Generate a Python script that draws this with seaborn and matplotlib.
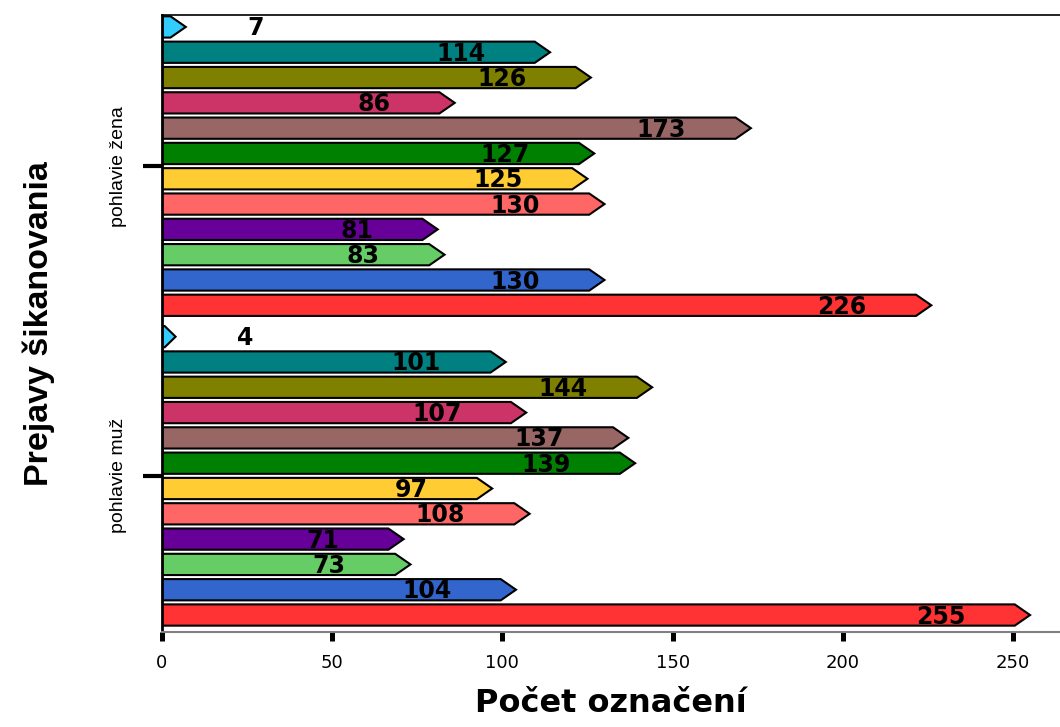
import matplotlib
matplotlib.use("Agg")
import pandas as pd
import seaborn as sns
from matplotlib import pyplot as plt
from matplotlib.patches import Polygon

# data, top to bottom inside each group
skupiny = ["pohlavie žena", "pohlavie muž"]
prejavy = [f"prejav {i}" for i in range(1, 13)]
zena = [7, 114, 126, 86, 173, 127, 125, 130, 81, 83, 130, 226]
muz = [4, 101, 144, 107, 137, 139, 97, 108, 71, 73, 104, 255]
farby = [
    "#33CCFF", "#008080", "#808000", "#CC3366", "#996666", "#008000",
    "#FFCC33", "#FF6666", "#660099", "#66CC66", "#3366CC", "#FF3333",
]
xticks = [0, 50, 100, 150, 200, 250]

GAP = 0.24  # extra space between the two groups

rows = []
for g, (name, vals) in enumerate(zip(skupiny, [zena, muz])):
    for i, (p, v) in enumerate(zip(prejavy, vals)):
        rows.append({"pohlavie": name, "prejav": p, "pocet": v,
                     "pos": g * (len(prejavy) + GAP) + i})
df = pd.DataFrame(rows)

sns.set_style("white")
plt.rcParams["font.family"] = ["DejaVu Sans"]
plt.rcParams["text.color"] = "black"
plt.rcParams["axes.labelcolor"] = "black"
plt.rcParams["xtick.color"] = "black"
plt.rcParams["ytick.color"] = "black"

fig = plt.figure(figsize=(10.6, 7.27), dpi=100)
ax = fig.add_axes([0.1528, 0.1307, 0.8472, 0.8486])

sns.barplot(data=df, x="pocet", y="pos", hue="prejav", orient="h",
            palette=dict(zip(prejavy, farby)), saturation=1, native_scale=True,
            dodge=False, width=0.84, legend=False, ax=ax)

# turn the rectangles into arrow-shaped bars
for p in list(ax.patches):
    v, y0, h = p.get_width(), p.get_y(), p.get_height()
    head = min(4.5, 0.8 * v)
    verts = [(0, y0), (v - head, y0), (v, y0 + h / 2), (v - head, y0 + h), (0, y0 + h)]
    ax.add_patch(Polygon(verts, closed=True, facecolor=p.get_facecolor(),
                         edgecolor="black", linewidth=1.5, zorder=2))
    p.remove()

for _, r in df.iterrows():
    if r["pocet"] >= 20:
        ax.text(r["pocet"] - 19, r["pos"] + 0.06, str(r["pocet"]), ha="right",
                va="center", fontsize=17, fontweight="bold", color="black", zorder=3)
    else:
        ax.text(r["pocet"] + 18, r["pos"] + 0.06, str(r["pocet"]), ha="left",
                va="center", fontsize=17, fontweight="bold", color="black", zorder=3)

ax.set_xlim(0, 263.8)
ax.set_ylim(df["pos"].max() + 0.67, -0.47)

centers = df.groupby("pohlavie", sort=False)["pos"].mean()
ax.set_yticks(centers.values)
ax.set_yticklabels(centers.index, rotation=90, va="center",
                   family="Liberation Sans", fontsize=14)
ax.tick_params(axis="y", length=14, width=3, color="black", pad=11, left=True)

ax.set_xticks(xticks)
ax.set_xticklabels([str(t) for t in xticks], fontsize=13)
ax.tick_params(axis="x", length=6.5, width=3.6, color="black", pad=9, bottom=True,
               direction="out")

ax.set_xlabel("Počet označení", fontsize=23, fontweight="bold", labelpad=12)
ax.set_ylabel("Prejavy šikanovania", fontsize=24.5, fontweight="bold",
              family="Liberation Sans", labelpad=40)

ax.spines["right"].set_visible(False)
ax.spines["top"].set_color("black")
ax.spines["top"].set_linewidth(1.2)
ax.spines["left"].set_color("black")
ax.spines["left"].set_linewidth(2)
ax.spines["bottom"].set_color("#808080")
ax.spines["bottom"].set_linewidth(1.5)

fig.savefig("out.png", dpi=100)
